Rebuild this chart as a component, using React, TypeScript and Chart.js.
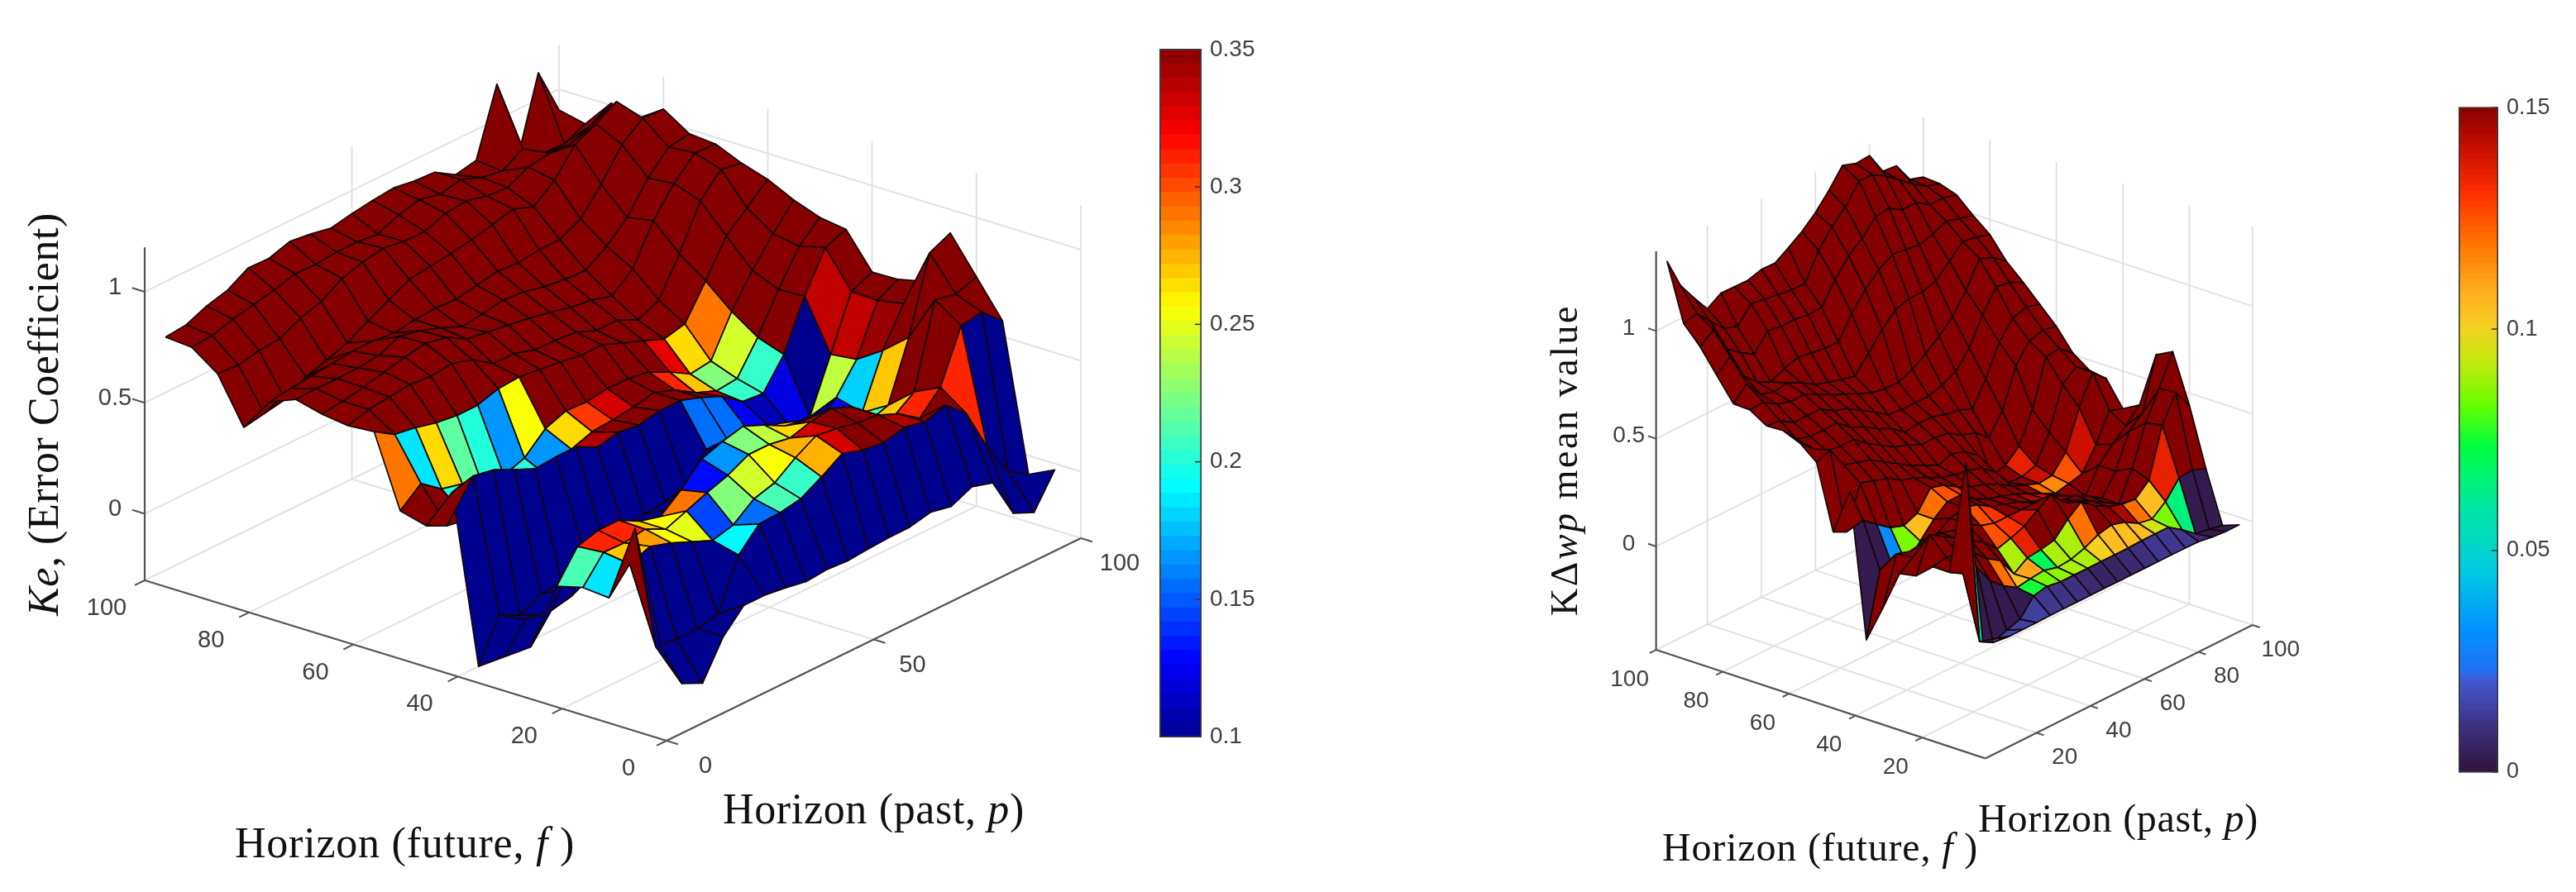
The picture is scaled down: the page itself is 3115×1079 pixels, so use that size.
import React, { useEffect, useRef } from 'react';
import { Chart, registerables } from 'chart.js';
Chart.register(...registerables);

const horizonF = [100, 95, 90, 85, 80, 75, 70, 65, 60, 55, 50, 45, 40, 35, 30, 25, 20, 15, 10, 5];
const horizonP = [5, 10, 15, 20, 25, 30, 35, 40, 45, 50, 55, 60, 65, 70, 75, 80, 85, 90, 95, 100];

const zLeft = [
  [.75, .76, .80, .825, .88, .877, .907, .895, .877, .896, .91, .92, .906, .90, .843, .862, 1.16, .78, 1.12, .907],
  [.741, .747, .776, .796, .816, .843, .84, .85, .85, .84, .88, .903, .882, .903, .866, .85, .905, .84, .836, .88],
  [.657, .65, .67, .677, .725, .754, .812, .84, .858, .843, .842, .878, .888, .865, .857, .904, .92, .914, .954, 1.01],
  [.452, .469, .487, .542, .571, .604, .658, .706, .753, .767, .778, .795, .817, .842, .807, .881, .996, 1.043, 1.098, .977],
  [.603, .617, .627, .638, .648, .65, .639, .653, .66, .654, .672, .69, .681, .695, .695, .742, .853, .986, 1.06, 1.055],
  [.65, .653, .652, .655, .665, .706, .686, .652, .613, .624, .641, .633, .61, .598, .593, .655, .74, .873, .965, .98],
  [.62, .632, .65, .672, .694, .71, .692, .639, .624, .611, .595, .576, .553, .54, .513, .59, .761, .883, .975, .97],
  [.604, .632, .642, .653, .644, .655, .627, .564, .563, .535, .531, .523, .485, .487, .441, .486, .648, .84, .937, .92],
  [.613, .555, .54, .516, .504, .505, .533, .54, .528, .516, .50, .503, .465, .43, .392, .414, .562, .72, .80, .883],
  [.292, .37, .30, .277, .22, .224, .257, .343, .378, .373, .387, .386, .37, .325, .27, .283, .46, .6, .72, .826],
  [.261, .216, .2, .2, .2, .2, .2, .287, .32, .328, .34, .36, .325, .268, .23, .24, .38, .55, .70, .784],
  [.45, .476, .458, .414, .372, .38, .38, .332, .353, .34, .36, .36, .328, .288, .218, .209, .339, .557, .73, .766],
  [-.3, -.11, -.16, -.11, -.1, .02, -.01, .01, .02, .03, .06, .176, .176, .173, .146, .10, .095, .33, .568, .61],
  [-.22, -.10, -.12, -.05, -.02, .02, .03, .05, .08, .10, .14, .207, .23, .2, .18, .117, .217, .344, .564, .613],
  [-.14, -.02, .0, .05, .08, .10, .14, .18, .22, .28, .30, .317, .32, .28, .2, .154, .186, .42, .586, .64],
  [.17, .303, .33, .33, .28, .255, .33, .424, .457, .48, .44, .39, .37, .33, .217, .223, .255, .516, .85, .894],
  [.2, .313, .31, .326, .28, .317, .354, .386, .434, .434, .417, .445, .46, .42, .25, .285, .352, .72, .70, .733],
  [.19, .297, .33, .30, .26, .22, .244, .316, .343, .41, .464, .45, .43, .42, .38, .314, .408, .64, .656, .57],
  [.54, -.04, -.05, -.05, -.03, .19, .285, .29, .307, .36, .42, .39, .377, .40, .38, .41, .325, .13, -.025, -.085],
  [.043, -.17, -.214, -.05, .046, .046, .033, .016, .024, .018, .026, .032, .033, .054, .035, .078, .05, -.133, -.175, -.028],
];

const colorLeft = [
  [.35, .35, .35, .35, .35, .35, .35, .35, .35, .35, .35, .35, .35, .35, .35, .35, .35, .35, .35],
  [.35, .35, .35, .35, .35, .35, .35, .35, .35, .35, .35, .35, .35, .35, .35, .35, .35, .35, .35],
  [.35, .35, .35, .35, .35, .35, .35, .35, .35, .35, .35, .35, .35, .35, .35, .35, .35, .35, .35],
  [.35, .35, .35, .35, .35, .35, .35, .35, .35, .35, .35, .35, .35, .35, .35, .35, .35, .35, .35],
  [.35, .35, .35, .35, .35, .35, .35, .35, .35, .35, .35, .35, .35, .35, .35, .35, .35, .35, .35],
  [.35, .35, .35, .35, .35, .35, .35, .35, .35, .35, .35, .35, .35, .35, .35, .35, .35, .35, .35],
  [.35, .35, .35, .35, .35, .35, .35, .35, .35, .35, .35, .35, .35, .35, .35, .35, .35, .35, .35],
  [.35, .35, .35, .35, .35, .35, .35, .35, .35, .35, .35, .35, .35, .35, .35, .35, .35, .35, .35],
  [.29, .185, .265, .215, .2, .165, .255, .35, .35, .35, .35, .35, .35, .325, .265, .29, .35, .35, .35],
  [.35, .35, .2, .2, .2, .2, .165, .265, .305, .33, .35, .35, .31, .27, .225, .245, .35, .35, .35],
  [.35, .35, .2, .2, .2, .2, .2, .34, .35, .35, .35, .35, .35, .335, .205, .205, .35, .35, .35],
  [.1, .1, .1, .1, .1, .1, .1, .1, .1, .1, .1, .155, .155, .125, .11, .12, .1, .335, .35],
  [.1, .1, .1, .1, .1, .1, .1, .1, .1, .1, .1, .1, .1, .1, .1, .1, .24, .335, .35],
  [.1, .1, .1, .1, .1, .1, .1, .1, .1, .1, .21, .17, .22, .1, .1, .13, .18, .345, .35],
  [.1, .1, .12, .3, .26, .2, .15, .165, .14, .22, .24, .27, .33, .2, .13, .21, .27, .35, .35],
  [.21, .31, .31, .27, .255, .29, .13, .165, .225, .24, .265, .33, .31, .34, .21, .27, .35, .35, .35],
  [.185, .27, .28, .255, .25, .145, .225, .245, .255, .275, .33, .35, .35, .35, .3, .31, .35, .35, .35],
  [.35, .1, .1, .1, .1, .19, .155, .21, .205, .275, .33, .35, .35, .34, .35, .35, .31, .1, .1],
  [.1, .1, .1, .1, .1, .1, .1, .1, .1, .1, .1, .1, .1, .1, .1, .1, .1, .1, .1],
];

const zRight = [
  [1.30, 1.156, 1.067, .984, 1.026, 1.024, 1.023, 1.042, 1.04, 1.08, 1.124, 1.18, 1.253, 1.337, 1.315, 1.32, 1.216, 1.21, 1.116, 1.095],
  [1.036, 1.05, .98, .92, .895, .97, .96, .95, .94, .939, 1.06, 1.14, 1.2, 1.29, 1.287, 1.25, 1.2, 1.15, 1.11, 1.089],
  [.952, 1.0, .88, .83, .793, .87, .86, .86, .85, .854, .95, 1.03, 1.08, 1.15, 1.159, 1.12, 1.12, 1.08, 1.08, 1.063],
  [.845, .9, .78, .72, .69, .72, .74, .73, .72, .72, .82, .9, .96, 1.0, .992, .98, 1.0, 1.03, 1.01, .993],
  [.739, .8, .72, .7, .71, .68, .64, .62, .6, .586, .66, .74, .8, .82, .821, .84, .9, .96, .95, .93],
  [.735, .74, .7, .68, .683, .65, .62, .59, .56, .534, .52, .52, .55, .59, .64, .7, .79, .905, .88, .831],
  [.687, .68, .64, .64, .64, .6, .58, .54, .5, .457, .45, .45, .45, .47, .5, .58, .7, .8, .79, .76],
  [.69, .62, .6, .6, .6, .55, .52, .48, .45, .401, .41, .41, .39, .38, .353, .46, .6, .68, .7, .683],
  [.658, .6, .56, .55, .55, .5, .46, .42, .4, .368, .37, .36, .32, .3, .244, .34, .515, .6, .62, .606],
  [.595, .62, .52, .5, .48, .44, .4, .36, .33, .299, .32, .3, .25, .127, .142, .2, .34, .551, .56, .507],
  [.297, .266, .46, .44, .42, .38, .36, .33, .3, .28, .27, .25, .2, .12, .114, .137, .259, .45, .5, .452],
  [.51, .344, .295, .249, .226, .252, .34, .32, .28, .25, .23, .2, .16, .133, .109, .116, .192, .368, .5, .44],
  [-.154, .14, .115, .103, .18, .25, .3, .3, .25, .22, .2, .18, .15, .12, .088, .103, .118, .22, .348, .326],
  [.02, .24, .22, .2, .24, .28, .3, .28, .24, .22, .2, .17, .15, .134, .091, .071, .182, .25, .303, .368],
  [.205, .25, .3, .3, .28, .28, .24, .22, .22, .22, .22, .18, .17, .16, .127, .086, .18, .334, .386, .627],
  [.22, .38, .34, .3, .26, .22, .157, .176, .2, .245, .286, .215, .196, .16, .123, .084, .218, .398, .527, .667],
  [.287, .3, .28, .26, .2, .16, .067, .11, .117, .13, .196, .245, .195, .16, .14, .132, .189, .414, .533, .444],
  [.287, .25, .25, .155, .1, .06, .07, .077, .06, .066, .087, .118, .132, .114, .077, .065, .115, .194, .2, .174],
  [.82, -.04, -.075, -.05, -.03, .047, .06, .05, .05, .05, .05, .05, .05, .053, .053, .053, .01, -.04, -.05, -.064],
  [.02, 0, -.02, -.02, -.02, -.018, -.018, -.018, -.018, -.018, -.018, -.018, -.018, -.018, -.018, -.018, -.02, -.03, -.035, -.035],
];

const colorRight = [
  [.15, .15, .15, .15, .15, .15, .15, .15, .15, .15, .15, .15, .15, .15, .15, .15, .15, .15, .15],
  [.15, .15, .15, .15, .15, .15, .15, .15, .15, .15, .15, .15, .15, .15, .15, .15, .15, .15, .15],
  [.15, .15, .15, .15, .15, .15, .15, .15, .15, .15, .15, .15, .15, .15, .15, .15, .15, .15, .15],
  [.15, .15, .15, .15, .15, .15, .15, .15, .15, .15, .15, .15, .15, .15, .15, .15, .15, .15, .15],
  [.15, .15, .15, .15, .15, .15, .15, .15, .15, .15, .15, .15, .15, .15, .15, .15, .15, .15, .15],
  [.15, .15, .15, .15, .15, .15, .15, .15, .15, .15, .15, .15, .15, .15, .15, .15, .15, .15, .15],
  [.15, .15, .15, .15, .15, .15, .15, .15, .15, .15, .15, .15, .15, .15, .15, .15, .15, .15, .15],
  [.15, .15, .15, .15, .15, .15, .15, .15, .15, .15, .15, .15, .15, .15, .15, .15, .15, .15, .15],
  [.15, .15, .15, .15, .15, .15, .15, .15, .15, .15, .15, .15, .15, .15, .15, .15, .15, .15, .15],
  [.15, .15, .15, .15, .15, .15, .15, .15, .15, .15, .15, .15, .15, .15, .135, .15, .15, .15, .15],
  [.15, .15, .15, .15, .15, .15, .15, .15, .15, .15, .15, .15, .15, .15, .14, .15, .15, .15, .15],
  [.003, .003, .03, .085, .105, .12, .125, .13, .15, .15, .15, .15, .15, .12, .115, .125, .14, .15, .15],
  [.15, .15, .15, .15, .15, .15, .15, .15, .15, .15, .15, .145, .14, .15, .15, .15, .15, .15, .15],
  [.15, .15, .15, .15, .15, .15, .125, .13, .15, .15, .15, .15, .15, .15, .15, .15, .15, .15, .15],
  [.15, .15, .15, .15, .15, .15, .125, .13, .14, .15, .15, .15, .15, .15, .15, .15, .15, .15, .15],
  [.15, .15, .15, .15, .15, .15, .09, .135, .15, .15, .15, .15, .15, .15, .15, .15, .15, .15, .15],
  [.15, .15, .15, .15, .12, .105, .11, .07, .09, .09, .12, .15, .15, .145, .12, .105, .135, .15, .15],
  [.15, .003, .003, .003, .003, .075, .085, .087, .09, .09, .1, .105, .105, .105, .095, .085, .065, .003, .003],
  [.06, .02, .015, .014, .014, .012, .011, .01, .008, .006, .006, .008, .01, .012, .012, .012, .009, .003, .003],
];

const leftFTicks = [100, 80, 60, 40, 20, 0];
const leftPTicks = [0, 50, 100];
const leftZTicks = [0, 0.5, 1];
const leftBarTicks = [0.1, 0.15, 0.2, 0.25, 0.3, 0.35];
const rightFTicks = [100, 80, 60, 40, 20];
const rightPTicks = [20, 40, 60, 80, 100];
const rightZTicks = [0, 0.5, 1];
const rightBarTicks = [0, 0.05, 0.1, 0.15];

const jetStops = [[0, 0, 0, 143], [.11, 0, 0, 255], [.365, 0, 255, 255], [.625, 255, 255, 0], [.875, 255, 0, 0], [1, 135, 0, 0]];
const turboStops = [[0, 48, 18, 59], [.07, 62, 50, 130], [.14, 66, 90, 215], [.15, 32, 112, 240], [.22, 0, 150, 255], [.3, 0, 200, 225], [.4, 0, 232, 160], [.49, 0, 255, 64], [.55, 100, 255, 0], [.62, 200, 232, 16], [.67, 245, 208, 32], [.72, 255, 176, 32], [.8, 255, 112, 0], [.87, 255, 48, 0], [.93, 208, 16, 0], [1, 135, 0, 0]];

function ramp(stops: number[][], t: number) {
  const u = Math.max(0, Math.min(1, t));
  for (let i = 1; i < stops.length; i++) {
    if (u <= stops[i][0]) {
      const a = stops[i - 1], b = stops[i], m = (u - a[0]) / (b[0] - a[0] || 1);
      return `rgb(${[1, 2, 3].map((k) => Math.round(a[k] + (b[k] - a[k]) * m)).join(',')})`;
    }
  }
  return 'rgb(135,0,0)';
}

const SANS = '"Liberation Sans", Arial, sans-serif';
const SERIF = '"Liberation Serif", serif';
const TICK = '#404040';

const leftCfg = {
  box: [1400, 1079, 0], z: zLeft, c: colorLeft, cMin: 0.1, cMax: 0.35, stops: jetStops,
  fMin: 0, fMax: 100, pMin: 0, pMax: 100, zMin: -0.3, zMax: 1.2,
  ox: 806, oy: 896, fx: -6.31, fy: -1.94, px: 5.01, py: -2.45, zk: 268.5,
  dF: 4.62, dP: 5.82, dZ: 112.7,
  fTicks: leftFTicks, pTicks: leftPTicks, zTicks: leftZTicks,
  fGrid: [0, 20, 40, 60, 80, 100], pGrid: [0, 50, 100],
  fOff: [-46, 34], pOff: [47, 31], zOff: [-36, -5], tickFont: 29,
  titles: [
    { x: 284, y: 1037, w: 411, size: 52, runs: [['Horizon (future, ', 0], ['f', 1], [' )', 0]] },
    { x: 874, y: 996, w: 365, size: 52, runs: [['Horizon (past, ', 0], ['p', 1], [')', 0]] },
    { x: 70, y: 745, w: 487, size: 52, rot: true, runs: [['Ke', 1], [', (Error Coefficient)', 0]] },
  ],
};

const rightCfg = {
  box: [1100, 1079, 1860], z: zRight, c: colorRight, cMin: 0, cMax: 0.15, stops: turboStops,
  fMin: 1, fMax: 100, pMin: 1, pMax: 100, zMin: -0.48, zMax: 1.37,
  ox: 2400.6 + 4.02 - 3.265, oy: 917.4 + 1.327 + 1.63, fx: -4.02, fy: -1.327, px: 3.265, py: -1.63, zk: 260.6,
  dF: 2.98, dP: 3.67, dZ: 115.8,
  fTicks: rightFTicks, pTicks: rightPTicks, zTicks: rightZTicks,
  fGrid: [1, 20, 40, 60, 80, 100], pGrid: [1, 20, 40, 60, 80, 100],
  fOff: [-32, 36], pOff: [34, 30], zOff: [-33, -3], tickFont: 28,
  titles: [
    { x: 2010, y: 1041, w: 382, size: 48, runs: [['Horizon (future, ', 0], ['f', 1], [' )', 0]] },
    { x: 2392, y: 1006, w: 339, size: 48, runs: [['Horizon (past, ', 0], ['p', 1], [')', 0]] },
    { x: 1907, y: 745, w: 377, size: 46, rot: true, runs: [['K\u0394', 0], ['wp', 1], [' mean value', 0]] },
  ],
};

function project(cfg: any, f: number, p: number, z: number) {
  return { x: cfg.ox + cfg.fx * f + cfg.px * p, y: cfg.oy + cfg.fy * f + cfg.py * p - cfg.zk * (z - cfg.zMin) };
}

function lineSet(pts: any[], color: string, width: number) {
  return { data: pts, showLine: true, fill: false, borderColor: color, borderWidth: width, pointRadius: 0, tension: 0, clip: false };
}

function buildDatasets(cfg: any) {
  const faces: any[] = [];
  for (let r = 0; r < horizonF.length - 1; r++) {
    for (let k = 0; k < horizonP.length - 1; k++) {
      const corners = [[r, k], [r, k + 1], [r + 1, k + 1], [r + 1, k]];
      const pts = corners.map(([a, b]) => project(cfg, horizonF[a], horizonP[b], cfg.z[a][b]));
      pts.push(pts[0]);
      let depth = 0;
      corners.forEach(([a, b]) => { depth += cfg.dF * horizonF[a] + cfg.dP * horizonP[b] - cfg.dZ * cfg.z[a][b]; });
      const color = ramp(cfg.stops, (cfg.c[r][k] - cfg.cMin) / (cfg.cMax - cfg.cMin));
      faces.push({ depth, set: { data: pts, showLine: true, fill: 'shape', backgroundColor: color, borderColor: '#140606', borderWidth: 1.7, borderJoinStyle: 'round', pointRadius: 0, tension: 0, clip: false } });
    }
  }
  faces.sort((a, b) => a.depth - b.depth);
  const sets: any[] = faces.map((x) => x.set);
  const GRID = '#e2e2e2', AXIS = '#555555';
  const seg = (a: number[], b: number[], col: string, w: number) =>
    sets.push(lineSet([project(cfg, a[0], a[1], a[2]), project(cfg, b[0], b[1], b[2])], col, w));
  const { fMin, fMax, pMin, pMax, zMin, zMax } = cfg;
  cfg.fTicks.forEach((f: number) => seg([f, pMin, zMin], [f, pMin - 2.4, zMin], AXIS, 2));
  cfg.pTicks.forEach((p: number) => seg([fMin, p, zMin], [fMin - 2.2, p, zMin], AXIS, 2));
  cfg.zTicks.forEach((z: number) => seg([fMax, pMin, z], [fMax + 2.4, pMin, z], AXIS, 2));
  seg([fMax, pMin, zMin], [fMin, pMin, zMin], AXIS, 2.2);
  seg([fMin, pMin, zMin], [fMin, pMax, zMin], AXIS, 2.2);
  seg([fMax, pMin, zMin], [fMax, pMin, zMax], AXIS, 2.2);
  cfg.fGrid.forEach((f: number) => {
    seg([f, pMin, zMin], [f, pMax, zMin], GRID, 2);
    seg([f, pMax, zMin], [f, pMax, zMax], GRID, 2);
  });
  cfg.pGrid.forEach((p: number) => {
    seg([fMin, p, zMin], [fMax, p, zMin], GRID, 2);
    seg([fMax, p, zMin], [fMax, p, zMax], GRID, 2);
  });
  cfg.zTicks.forEach((z: number) => {
    seg([fMax, pMin, z], [fMax, pMax, z], GRID, 2);
    seg([fMax, pMax, z], [fMin, pMax, z], GRID, 2);
  });
  return sets;
}

function drawRuns(ctx: any, t: any) {
  ctx.save();
  ctx.fillStyle = '#111';
  ctx.textBaseline = 'alphabetic';
  ctx.textAlign = 'left';
  let natural = 0, chars = 0;
  t.runs.forEach(([s, it]: any) => {
    ctx.font = `${it ? 'italic ' : ''}${t.size}px ${SERIF}`;
    natural += ctx.measureText(s).width;
    chars += s.length;
  });
  const gap = (t.w - natural) / chars;
  ctx.translate(t.x, t.y);
  if (t.rot) ctx.rotate(-Math.PI / 2);
  let at = 0;
  t.runs.forEach(([s, it]: any) => {
    ctx.font = `${it ? 'italic ' : ''}${t.size}px ${SERIF}`;
    for (const ch of s) {
      ctx.fillText(ch, at, 0);
      at += ctx.measureText(ch).width + gap;
    }
  });
  ctx.restore();
}

const labelPlugin = (cfg: any) => ({
  id: 'labels',
  afterDraw(chart: any) {
    const { ctx, scales } = chart;
    const sx = (v: number) => scales.x.getPixelForValue(v);
    const sy = (v: number) => scales.y.getPixelForValue(v);
    ctx.save();
    ctx.fillStyle = TICK;
    ctx.font = `${cfg.tickFont}px ${SANS}`;
    ctx.textAlign = 'center';
    ctx.textBaseline = 'middle';
    const put = (q: any, off: number[], s: string) => ctx.fillText(s, sx(q.x + off[0]), sy(q.y + off[1]));
    cfg.fTicks.forEach((f: number) => put(project(cfg, f, cfg.pMin, cfg.zMin), cfg.fOff, String(f)));
    cfg.pTicks.forEach((p: number) => put(project(cfg, cfg.fMin, p, cfg.zMin), cfg.pOff, String(p)));
    cfg.zTicks.forEach((z: number) => put(project(cfg, cfg.fMax, cfg.pMin, z), cfg.zOff, String(z)));
    ctx.restore();
    const [, , x0] = cfg.box;
    cfg.titles.forEach((t: any) => drawRuns(ctx, { ...t, x: t.x - x0 }));
  },
});

function Surface({ cfg }: any) {
  const ref = useRef<HTMLCanvasElement>(null);
  useEffect(() => {
    const [w, h, x0] = cfg.box;
    const chart = new Chart(ref.current as any, {
      type: 'scatter',
      data: { datasets: buildDatasets(cfg) },
      options: {
        animation: false, responsive: false, devicePixelRatio: 1, parsing: false,
        events: [], layout: { padding: 0 },
        plugins: { legend: { display: false }, tooltip: { enabled: false }, title: { display: false } },
        scales: {
          x: { type: 'linear', display: false, min: x0, max: x0 + w },
          y: { type: 'linear', display: false, min: 0, max: h, reverse: true },
        },
      } as any,
      plugins: [labelPlugin(cfg)],
    });
    return () => chart.destroy();
  }, [cfg]);
  const [w, h, x0] = cfg.box;
  return <canvas ref={ref} width={w} height={h} style={{ position: 'absolute', left: x0, top: 0, width: w, height: h, filter: 'blur(0.6px)' }} />;
}

function ColorBar({ left, top, barW, barH, min, max, stops, ticks, levels, size }: any) {
  const ref = useRef<HTMLCanvasElement>(null);
  const pad = 22;
  const W = barW + 110;
  useEffect(() => {
    const step = (max - min) / levels;
    const datasets: any[] = [];
    for (let i = 0; i < levels; i++) {
      datasets.push({
        data: [[min + i * step, min + (i + 1) * step + step * 0.02]],
        backgroundColor: ramp(stops, (i + 0.5) / levels),
        borderWidth: 0, barPercentage: 1, categoryPercentage: 1, grouped: false,
      });
    }
    const chart = new Chart(ref.current as any, {
      type: 'bar',
      data: { labels: ['bar'], datasets },
      options: {
        animation: false, responsive: false, devicePixelRatio: 1, events: [],
        layout: { padding: { top: pad, bottom: pad, left: 0, right: 0 } },
        plugins: { legend: { display: false }, tooltip: { enabled: false } },
        scales: {
          x: { display: false },
          y: {
            position: 'right', min, max, afterBuildTicks: (s: any) => { s.ticks = ticks.map((v: number) => ({ value: v })); },
            afterFit: (s: any) => { s.width = W - barW; },
            border: { display: false }, grid: { display: false, drawTicks: false },
            ticks: { padding: 10, color: TICK, font: { family: SANS, size }, callback: (v: number) => String(+v.toFixed(2)) },
          },
        },
      } as any,
      plugins: [{
        id: 'frame',
        afterDraw(c: any) {
          const { ctx, chartArea: a, scales } = c;
          ctx.save();
          ctx.strokeStyle = '#3a3a3a';
          ctx.lineWidth = 1.6;
          ctx.strokeRect(a.left + 0.8, a.top, a.width - 1.6, a.height);
          ticks.forEach((v: number) => {
            const y = scales.y.getPixelForValue(v);
            ctx.beginPath(); ctx.moveTo(a.right - 8, y); ctx.lineTo(a.right, y); ctx.stroke();
          });
          ctx.restore();
        },
      }],
    });
    return () => chart.destroy();
  }, []);
  return <canvas ref={ref} width={W} height={barH + pad * 2} style={{ position: 'absolute', left, top: top - pad, width: W, height: barH + pad * 2, filter: 'blur(0.5px)' }} />;
}

export default function App() {
  return (
    <div style={{ position: 'fixed', left: 0, top: 0, width: 3115, height: 1079, background: '#fff', overflow: 'hidden' }}>
      <Surface cfg={leftCfg} />
      <Surface cfg={rightCfg} />
      <ColorBar left={1402} top={55} barW={51} barH={841} min={0.1} max={0.35} stops={jetStops} ticks={leftBarTicks} levels={48} size={28} />
      <ColorBar left={2973} top={126} barW={48} barH={812} min={0} max={0.15} stops={turboStops} ticks={rightBarTicks} levels={128} size={27} />
    </div>
  );
}
